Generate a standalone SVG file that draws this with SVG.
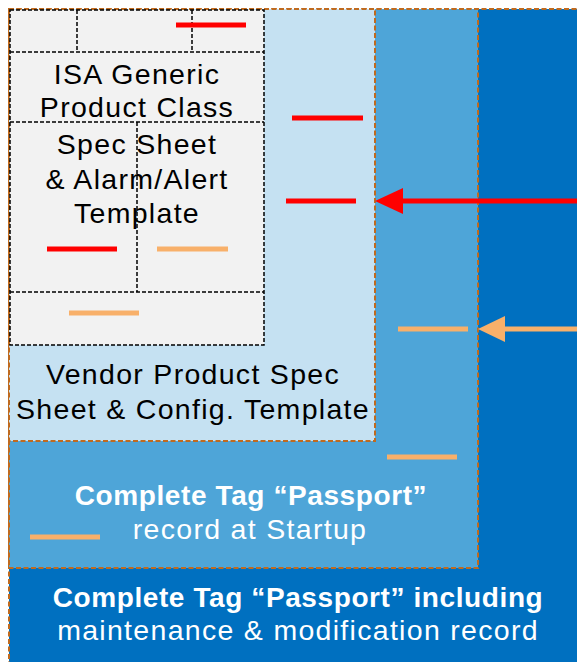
<svg xmlns="http://www.w3.org/2000/svg" width="577" height="662" viewBox="0 0 577 662">
<defs>
<style>
.ob{stroke:#BF6A1F;stroke-width:2;stroke-dasharray:5,2.5}
.bk{stroke:#000;stroke-width:1.5;stroke-dasharray:4,2}
.ln{fill:none}
.t{font-family:"Liberation Sans",Arial,sans-serif;font-size:28.5px;letter-spacing:1.3px;text-anchor:middle}
.tb{font-family:"Liberation Sans",Arial,sans-serif;font-size:28px;font-weight:bold;letter-spacing:0.6px;text-anchor:middle;fill:#fff}
.red{stroke:#FF0000;stroke-width:5}
.org{stroke:#F8B06A;stroke-width:5}
</style>
</defs>
<rect width="577" height="662" fill="#fff"/>
<g id="maintenance-record">
<rect x="9" y="9" width="580" height="660" fill="#0070C0" class="ob"/>
<text class="tb" x="298" y="607">Complete Tag “Passport” including</text>
<text class="t" x="298" y="640" fill="#fff">maintenance &amp; modification record</text>
</g>
<g id="startup-record">
<rect x="9" y="9" width="469" height="559" fill="#4EA5D8" class="ob"/>
<text class="tb" x="251" y="505">Complete Tag “Passport”</text>
<text class="t" x="250" y="539" fill="#fff">record at Startup</text>
</g>
<g id="vendor-template">
<rect x="9" y="9" width="366" height="432" fill="#C5E1F2" class="ob"/>
<text class="t" x="193" y="384" fill="#000">Vendor Product Spec</text>
<text class="t" x="193" y="419" fill="#000">Sheet &amp; Config. Template</text>
</g>
<g id="isa-generic">
<rect x="10" y="10" width="254" height="335" fill="#F2F2F2" class="bk"/>
<path class="bk ln" d="M10 52H264M10 122H264M10 292H264M77 10V52M192 10V52M137 122V292"/>
<text class="t" x="137" y="84" fill="#000">ISA Generic</text>
<text class="t" x="137" y="117" fill="#000">Product Class</text>
<text class="t" x="137" y="154" fill="#000">Spec Sheet</text>
<text class="t" x="137" y="189" fill="#000">&amp; Alarm/Alert</text>
<text class="t" x="137" y="223" fill="#000">Template</text>
</g>
<g id="connectors">
<line class="red" x1="176" y1="25" x2="246" y2="25"/>
<line class="red" x1="292" y1="118" x2="363" y2="118"/>
<line class="red" x1="286" y1="201" x2="356" y2="201"/>
<line class="red" x1="47" y1="249" x2="117" y2="249"/>
<line class="org" x1="157" y1="249" x2="228" y2="249"/>
<line class="org" x1="69" y1="313" x2="139" y2="313"/>
<line class="org" x1="398" y1="329" x2="468" y2="329"/>
<line class="org" x1="387" y1="457" x2="457" y2="457"/>
<line class="org" x1="30" y1="537" x2="100" y2="537"/>
<line class="red" x1="577" y1="201" x2="400" y2="201"/>
<polygon points="375,201 403,188 403,214" fill="#FF0000"/>
<line class="org" x1="577" y1="329" x2="502" y2="329"/>
<polygon points="478,329 505,316 505,342" fill="#F8B06A"/>
</g>
</svg>
